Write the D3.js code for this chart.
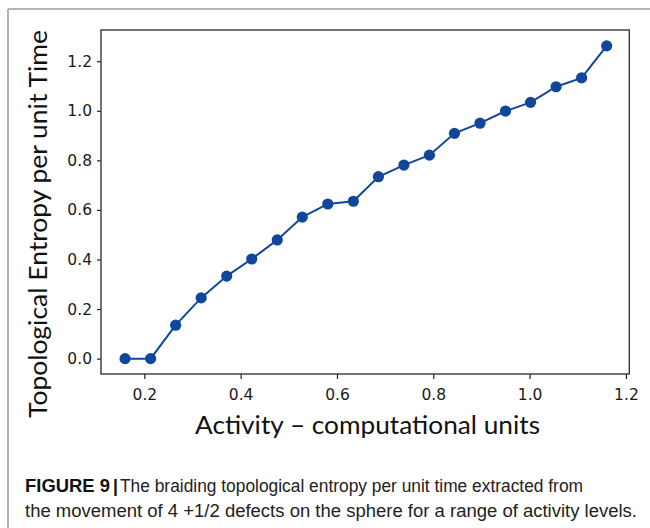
<!DOCTYPE html>
<html>
<head>
<meta charset="utf-8">
<script src="https://cdn.jsdelivr.net/npm/d3@7"></script>
<style>
  html, body { margin: 0; padding: 0; background: #fff; }
  svg { display: block; }
</style>
</head>
<body>
<svg id="chart" width="650" height="528"></svg>
<script>
// ---- data ----
const activity = [0.160, 0.213, 0.265, 0.318, 0.371, 0.423, 0.476, 0.528, 0.581, 0.634,
                  0.686, 0.739, 0.792, 0.844, 0.897, 0.950, 1.002, 1.055, 1.108, 1.160];
const entropy  = [0.000, 0.000, 0.135, 0.245, 0.333, 0.402, 0.479, 0.571, 0.624, 0.635,
                  0.734, 0.781, 0.821, 0.909, 0.950, 0.999, 1.034, 1.097, 1.133, 1.262];
const xTicks = [0.2, 0.4, 0.6, 0.8, 1.0, 1.2];
const yTicks = [0.0, 0.2, 0.4, 0.6, 0.8, 1.0, 1.2];
const xTitle = "Activity \u2013 computational units";
const yTitle = "Topological Entropy per unit Time";
const captionBold = "FIGURE 9";
const captionLine1 = "The braiding topological entropy per unit time extracted from";
const captionLine2 = "the movement of 4 +1/2 defects on the sphere for a range of activity levels.";

const points = activity.map((a, i) => ({ x: a, y: entropy[i] }));

const svg = d3.select("#chart");
const color = "#11479a";

// outer frame (top + left)
svg.append("line").attr("x1", 8).attr("y1", 9).attr("x2", 650).attr("y2", 9)
  .attr("stroke", "#9a9a9a").attr("stroke-width", 1.5);
svg.append("line").attr("x1", 8).attr("y1", 9).attr("x2", 8).attr("y2", 528)
  .attr("stroke", "#9a9a9a").attr("stroke-width", 1.5);

const pLeft = 101, pRight = 629.3, pTop = 30, pBottom = 374;
const x = d3.scaleLinear().domain([0.11, 1.207]).range([pLeft, pRight]);
const y = d3.scaleLinear().domain([-0.062, 1.326]).range([pBottom, pTop]);

const tickFont = "'DejaVu Sans', sans-serif";

// axes
const gx = svg.append("g").attr("transform", `translate(0,${pBottom})`)
  .call(d3.axisBottom(x).tickValues(xTicks).tickFormat(d3.format(".1f")).tickSize(5).tickPadding(10));
const gy = svg.append("g").attr("transform", `translate(${pLeft},0)`)
  .call(d3.axisLeft(y).tickValues(yTicks).tickFormat(d3.format(".1f")).tickSize(4).tickPadding(5));
[gx, gy].forEach(g => {
  g.select(".domain").remove();
  g.selectAll(".tick line").attr("stroke", "#222").attr("stroke-width", 1.2);
  g.selectAll(".tick text").attr("fill", "#1a1a1a").style("font-family", tickFont).style("font-size", "15.5px");
});

// plot frame
svg.append("rect").attr("x", pLeft).attr("y", pTop)
  .attr("width", pRight - pLeft).attr("height", pBottom - pTop)
  .attr("fill", "none").attr("stroke", "#2a2a2a").attr("stroke-width", 1.3);

// line + markers
const line = d3.line().x(d => x(d.x)).y(d => y(d.y));
svg.append("path").datum(points).attr("d", line)
  .attr("fill", "none").attr("stroke", color).attr("stroke-width", 2);
svg.append("g").selectAll("circle").data(points).join("circle")
  .attr("cx", d => x(d.x)).attr("cy", d => y(d.y)).attr("r", 5.6)
  .attr("fill", color);

// axis titles
const titleFont = "Lato, 'Open Sans', sans-serif";
svg.append("text").attr("x", 367.5).attr("y", 434)
  .attr("text-anchor", "middle").attr("fill", "#111")
  .style("font-family", titleFont).style("font-size", "25px")
  .attr("textLength", 345).attr("lengthAdjust", "spacingAndGlyphs")
  .text(xTitle);
svg.append("text").attr("transform", "translate(47,224) rotate(-90)")
  .attr("text-anchor", "middle").attr("fill", "#111")
  .style("font-family", titleFont).style("font-size", "25px")
  .attr("textLength", 388).attr("lengthAdjust", "spacingAndGlyphs")
  .text(yTitle);

// caption
const capFont = "'Liberation Sans Narrow', 'Liberation Sans', Arial, sans-serif";
const capSize = "17.5px";
svg.append("text").attr("x", 25).attr("y", 492).attr("fill", "#111")
  .style("font-family", capFont).style("font-size", capSize).style("font-weight", "bold")
  .attr("textLength", 85).attr("lengthAdjust", "spacingAndGlyphs")
  .text(captionBold);
svg.append("text").attr("x", 113).attr("y", 492).attr("fill", "#111")
  .style("font-family", capFont).style("font-size", capSize).style("font-weight", "bold")
  .text("|");
svg.append("text").attr("x", 120).attr("y", 492).attr("fill", "#222")
  .style("font-family", capFont).style("font-size", capSize)
  .attr("textLength", 463).attr("lengthAdjust", "spacingAndGlyphs")
  .text(captionLine1);
svg.append("text").attr("x", 25).attr("y", 517).attr("fill", "#222")
  .style("font-family", capFont).style("font-size", capSize)
  .attr("textLength", 612).attr("lengthAdjust", "spacingAndGlyphs")
  .text(captionLine2);
</script>
</body>
</html>
